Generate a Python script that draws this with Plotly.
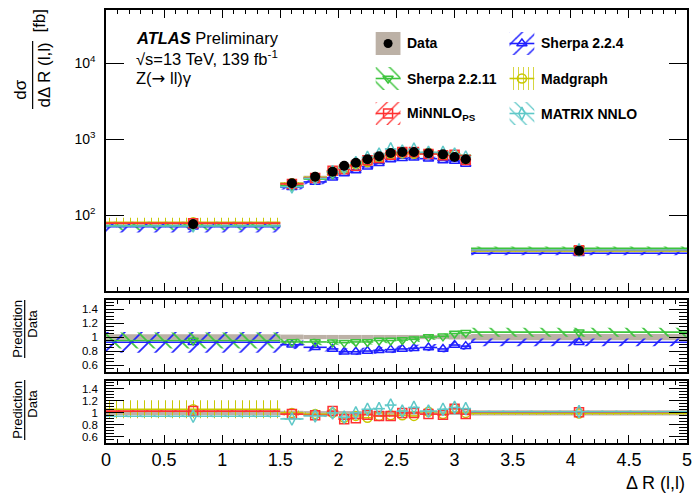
import plotly.graph_objects as go

# ------------------------------------------------------------------ data
bin_edges = [0.0, 1.5, 1.7, 1.9, 2.0, 2.1, 2.2, 2.3, 2.4, 2.5, 2.6, 2.7, 2.85, 2.95, 3.05, 3.14159, 5.0]
data_xsec = [76, 262, 320, 373, 447, 489, 542, 594, 656, 676, 676, 650, 630, 582, 542, 34]
data_rel_unc = [0.04, 0.035, 0.03, 0.03, 0.03, 0.03, 0.03, 0.03, 0.03, 0.03, 0.03, 0.03, 0.03, 0.035, 0.035, 0.045]

ratio_sherpa224 = [0.925, 0.89, 0.853, 0.83, 0.79, 0.79, 0.80, 0.81, 0.82, 0.83, 0.84, 0.85, 0.83, 0.886, 0.87, 0.925]
unc_sherpa224 = [0.16, 0.07, 0.07, 0.06, 0.06, 0.06, 0.06, 0.06, 0.06, 0.06, 0.06, 0.06, 0.06, 0.06, 0.06, 0.06]
ratio_sherpa2211 = [0.95, 0.93, 0.93, 0.925, 0.92, 0.93, 0.93, 0.95, 0.95, 0.957, 0.967, 1.0, 1.01, 1.05, 1.06, 1.07]
unc_sherpa2211 = [0.12, 0.05, 0.05, 0.04, 0.04, 0.04, 0.04, 0.04, 0.04, 0.04, 0.04, 0.04, 0.04, 0.04, 0.04, 0.06]
ratio_madgraph = [1.06, 1.0, 0.98, 1.0, 0.92, 0.95, 0.92, 0.95, 0.96, 0.96, 0.95, 1.02, 0.98, 1.07, 1.0, 0.99]
unc_madgraph = [0.14, 0.04, 0.03, 0.03, 0.03, 0.03, 0.03, 0.03, 0.03, 0.03, 0.03, 0.03, 0.03, 0.03, 0.03, 0.02]
ratio_minnlo = [1.03, 0.98, 0.96, 1.03, 0.895, 0.91, 0.97, 0.95, 0.95, 1.0, 1.0, 0.98, 0.97, 1.07, 0.98, 1.01]
unc_minnlo = [0.02, 0.02, 0.02, 0.02, 0.02, 0.02, 0.02, 0.02, 0.02, 0.02, 0.02, 0.02, 0.02, 0.02, 0.02, 0.02]
ratio_matrix = [0.945, 0.9, 0.95, 1.0, 0.93, 1.0, 1.06, 1.07, 1.13, 1.03, 1.09, 1.03, 1.06, 1.09, 1.07, 1.02]
unc_matrix = [0.02, 0.02, 0.02, 0.02, 0.02, 0.02, 0.02, 0.02, 0.02, 0.02, 0.02, 0.02, 0.02, 0.02, 0.02, 0.02]

model_names = ["Sherpa 2.2.4", "Sherpa 2.2.11", "Madgraph", "MiNNLO<sub>PS</sub>", "MATRIX NNLO"]
x_tick_vals = [0, 0.5, 1, 1.5, 2, 2.5, 3, 3.5, 4, 4.5, 5]
x_tick_text = ["0", "0.5", "1", "1.5", "2", "2.5", "3", "3.5", "4", "4.5", "5"]
main_label_vals = [100, 1000, 10000]
main_label_text = ["10<sup>2</sup>", "10<sup>3</sup>", "10<sup>4</sup>"]
ratio_tick_vals = [0.6, 0.8, 1.0, 1.2, 1.4]
ratio_tick_text = ["0.6", "0.8", "1", "1.2", "1.4"]

# ------------------------------------------------------------------ styles
FONT = "Liberation Sans, Arial, Helvetica, sans-serif"
BLUE = "#1f1fff"
GREEN = "#3cc43c"
YELLOW = "#c8c800"
RED = "#ff3030"
CYAN = "#5fc8c8"
TAUPE = "#bcb1a6"

models = [
    dict(name=model_names[0], ratio=ratio_sherpa224, unc=unc_sherpa224, color=BLUE,
         symbol="triangle-up-open", shape="/", psize=12, panel=2),
    dict(name=model_names[1], ratio=ratio_sherpa2211, unc=unc_sherpa2211, color=GREEN,
         symbol="triangle-down-open", shape="\\", psize=12, panel=2),
    dict(name=model_names[2], ratio=ratio_madgraph, unc=unc_madgraph, color=YELLOW,
         symbol="circle-open", shape="|", psize=7, panel=3),
    dict(name=model_names[3], ratio=ratio_minnlo, unc=unc_minnlo, color=RED,
         symbol="square-open", shape="/", psize=10, panel=3),
    dict(name=model_names[4], ratio=ratio_matrix, unc=unc_matrix, color=CYAN,
         symbol="diamond-tall-open", shape="\\", psize=10, panel=3),
]

# ------------------------------------------------------------------ geometry
W, H = 697, 495
ML, MR, MT, MB = 106, 5, 10, 52
PW = W - ML - MR
PH = H - MT - MB


def pxx(xp):
    return (xp - ML) / PW


def pxy(yp):
    return (H - MB - yp) / PH


MAIN_TOP, MAIN_BOT = 10, 291
R1_TOP, R1_BOT = 300, 372
R2_TOP, R2_BOT = 381, 443

centers = [(a + b) / 2 for a, b in zip(bin_edges[:-1], bin_edges[1:])]
widths = [b - a for a, b in zip(bin_edges[:-1], bin_edges[1:])]


def step_xy(vals):
    xs, ys = [], []
    for a, b, v in zip(bin_edges[:-1], bin_edges[1:], vals):
        xs += [a, b, None]
        ys += [v, v, None]
    return xs, ys


fig = go.Figure()


def add_band(vals, rel, color, shape, psize, xa, ya, solid=False):
    lo = [v * (1 - u) for v, u in zip(vals, rel)]
    hi = [v * (1 + u) for v, u in zip(vals, rel)]
    if solid:
        marker = dict(color=color, line=dict(width=0))
    else:
        marker = dict(color="rgba(0,0,0,0)", line=dict(width=0),
                      pattern=dict(shape=shape, fgcolor=color, bgcolor="rgba(0,0,0,0)",
                                   size=psize, solidity=0.14, fillmode="replace"))
    fig.add_trace(go.Bar(x=centers, y=[h - l for h, l in zip(hi, lo)], base=lo, width=widths,
                         marker=marker, xaxis=xa, yaxis=ya, showlegend=False, hoverinfo="skip"))


def add_line_marker(vals, color, symbol, xa, ya, size=9):
    xs, ys = step_xy(vals)
    fig.add_trace(go.Scatter(x=xs, y=ys, mode="lines", line=dict(color=color, width=1.6),
                             xaxis=xa, yaxis=ya, showlegend=False, hoverinfo="skip"))
    fig.add_trace(go.Scatter(x=centers, y=vals, mode="markers",
                             marker=dict(symbol=symbol, color=color, size=size,
                                         line=dict(color=color, width=1.5)),
                             xaxis=xa, yaxis=ya, showlegend=False, hoverinfo="skip"))


ones = [1.0 for _ in data_xsec]

# ---- main panel
add_band(data_xsec, data_rel_unc, TAUPE, None, None, "x", "y", solid=True)
for m in models:
    pred = [d * r for d, r in zip(data_xsec, m["ratio"])]
    add_band(pred, m["unc"], m["color"], m["shape"], m["psize"], "x", "y")
for m in models:
    pred = [d * r for d, r in zip(data_xsec, m["ratio"])]
    add_line_marker(pred, m["color"], m["symbol"], "x", "y")
fig.add_trace(go.Scatter(x=centers, y=data_xsec, mode="markers",
                         marker=dict(symbol="circle", color="black", size=10),
                         xaxis="x", yaxis="y", showlegend=False, hoverinfo="skip"))

# ---- ratio panels
for panel, (xa, ya) in ((2, ("x2", "y2")), (3, ("x3", "y3"))):
    add_band(ones, data_rel_unc, TAUPE, None, None, xa, ya, solid=True)
    sel = [m for m in models if m["panel"] == panel]
    for m in sel:
        add_band(m["ratio"], m["unc"], m["color"], m["shape"], m["psize"], xa, ya)
    for m in sel:
        add_line_marker(m["ratio"], m["color"], m["symbol"], xa, ya)

# ---- legend (drawn on a hidden unit axis over the main panel)
def lx(xp):
    return (xp - ML) / PW


def ly(yp):
    return (MAIN_BOT - yp) / (MAIN_BOT - MAIN_TOP)


leg_entries = [("Data", None), (models[0]["name"], models[0]),
               (models[1]["name"], models[1]), (models[2]["name"], models[2]),
               (models[3]["name"], models[3]), (models[4]["name"], models[4])]
col_x = [378, 513]
row_y = [43.5, 78.5, 113.5]
annotations = []
for i, (name, m) in enumerate(leg_entries):
    x0 = col_x[i % 2]
    yc = row_y[i // 2]
    x1 = x0 + 25
    y0, y1 = yc - 11.5, yc + 11.5
    bx = [lx(x0), lx(x1), lx(x1), lx(x0), lx(x0)]
    by = [ly(y0), ly(y0), ly(y1), ly(y1), ly(y0)]
    if m is None:
        fig.add_trace(go.Scatter(x=bx, y=by, fill="toself", fillcolor=TAUPE, mode="lines",
                                 line=dict(width=0), xaxis="x4", yaxis="y4",
                                 showlegend=False, hoverinfo="skip"))
        fig.add_trace(go.Scatter(x=[lx(x0 + 12.5)], y=[ly(yc)], mode="markers",
                                 marker=dict(color="black", size=9), xaxis="x4", yaxis="y4",
                                 showlegend=False, hoverinfo="skip"))
    else:
        fig.add_trace(go.Scatter(x=bx, y=by, fill="toself", mode="lines", line=dict(width=0),
                                 fillcolor="rgba(0,0,0,0)",
                                 fillpattern=dict(shape=m["shape"], fgcolor=m["color"],
                                                  bgcolor="rgba(0,0,0,0)", size=m["psize"] - 2,
                                                  solidity=0.15, fillmode="replace"),
                                 xaxis="x4", yaxis="y4", showlegend=False, hoverinfo="skip"))
        fig.add_trace(go.Scatter(x=[lx(x0), lx(x1)], y=[ly(yc), ly(yc)], mode="lines",
                                 line=dict(color=m["color"], width=1.6), xaxis="x4", yaxis="y4",
                                 showlegend=False, hoverinfo="skip"))
        fig.add_trace(go.Scatter(x=[lx(x0 + 12.5)], y=[ly(yc)], mode="markers",
                                 marker=dict(symbol=m["symbol"], color=m["color"], size=9,
                                             line=dict(color=m["color"], width=1.5)),
                                 xaxis="x4", yaxis="y4", showlegend=False, hoverinfo="skip"))
    annotations.append(dict(x=pxx(x1 + 5), y=pxy(yc), xref="paper", yref="paper",
                            text="<b>%s</b>" % name, showarrow=False, xanchor="left",
                            yanchor="middle", font=dict(family=FONT, size=14, color="black")))

# ---- texts
annotations += [
    dict(x=pxx(134), y=pxy(38), text="<b><i>ATLAS</i></b> Preliminary"),
    dict(x=pxx(134), y=pxy(58), text="√s=13 TeV, 139 fb<sup>-1</sup>"),
    dict(x=pxx(134), y=pxy(79),
         text="Z(<span style='font-family:DejaVu Sans'>→</span> ll)γ"),
]
for a in annotations[-3:]:
    a.update(xref="paper", yref="paper", showarrow=False, xanchor="left", yanchor="middle",
             font=dict(family=FONT, size=16.5, color="black"))

annotations += [
    dict(x=pxx(20), y=pxy(90), text="dσ", textangle=-90),
    dict(x=pxx(43), y=pxy(75), text="dΔ R (l,l)", textangle=-90),
    dict(x=pxx(39), y=pxy(21), text="[fb]", textangle=-90),
]
for a in annotations[-3:]:
    a.update(xref="paper", yref="paper", showarrow=False, xanchor="center", yanchor="middle",
             font=dict(family=FONT, size=17, color="black"))

for yc_pred, yc_data in ((329, 324), (410, 404)):
    annotations.append(dict(x=pxx(16), y=pxy(yc_pred), text="Prediction", textangle=-90))
    annotations.append(dict(x=pxx(31), y=pxy(yc_data), text="Data", textangle=-90))
for a in annotations[-4:]:
    a.update(xref="paper", yref="paper", showarrow=False, xanchor="center", yanchor="middle",
             font=dict(family=FONT, size=13, color="black"))

annotations.append(dict(x=pxx(692), y=pxy(483), xref="paper", yref="paper", text="Δ R (l,l)",
                        showarrow=False, xanchor="right", yanchor="middle",
                        font=dict(family=FONT, size=18, color="black")))

shapes = [
    dict(type="line", xref="paper", yref="paper", x0=pxx(32), x1=pxx(32), y0=pxy(41), y1=pxy(109),
         line=dict(color="black", width=1.2)),
    dict(type="line", xref="paper", yref="paper", x0=pxx(24), x1=pxx(24), y0=pxy(300), y1=pxy(358),
         line=dict(color="black", width=1.2)),
    dict(type="line", xref="paper", yref="paper", x0=pxx(24), x1=pxx(24), y0=pxy(380), y1=pxy(440),
         line=dict(color="black", width=1.2)),
]

# ---- axes
xcommon = dict(range=[0, 5], tickmode="array", tickvals=x_tick_vals, ticktext=x_tick_text,
               ticks="inside", ticklen=8, tickwidth=1, tickcolor="black",
               minor=dict(ticks="inside", dtick=0.1, tick0=0, ticklen=4, tickcolor="black"),
               showline=True, linecolor="black", linewidth=1.5, mirror="ticks",
               showgrid=False, zeroline=False, fixedrange=True)
ratio_common = dict(range=[0.5, 1.53], tickmode="array", tickvals=ratio_tick_vals,
                    ticktext=ratio_tick_text, ticks="inside", ticklen=18, tickcolor="black",
                    minor=dict(ticks="inside", dtick=0.05, tick0=0, ticklen=8, tickcolor="black"),
                    showline=True, linecolor="black", linewidth=1.5, mirror="ticks",
                    showgrid=False, zeroline=False, ticklabelstandoff=4,
                    tickfont=dict(family=FONT, size=11.5, color="black"))

# log axis: long labelled ticks at decades, short ticks at 2..9 x 10^k on an overlay axis
log_minor_vals = [m * 10 ** k for k in (1, 2, 3, 4) for m in range(2, 10) if m * 10 ** k <= 50000]
MAIN_DOM = [pxy(MAIN_BOT), pxy(MAIN_TOP)]

fig.update_layout(
    width=W, height=H, margin=dict(l=ML, r=MR, t=MT, b=MB),
    paper_bgcolor="white", plot_bgcolor="rgba(0,0,0,0)",
    barmode="overlay", showlegend=False,
    font=dict(family=FONT, color="black"),
    xaxis=dict(**xcommon, anchor="y", showticklabels=False),
    xaxis2=dict(**xcommon, anchor="y2", showticklabels=False),
    xaxis3=dict(**xcommon, anchor="y3", showticklabels=True,
                tickfont=dict(family=FONT, size=18, color="black")),
    xaxis4=dict(domain=[0, 1], range=[0, 1], anchor="y4", visible=False, fixedrange=True),
    yaxis=dict(type="log", range=[1, 4.7], domain=MAIN_DOM, anchor="x",
               tickmode="array", tickvals=main_label_vals, ticktext=main_label_text,
               ticks="inside", ticklen=18, tickcolor="black",
               showline=True, linecolor="black", linewidth=1.5, mirror="ticks",
               showgrid=False, zeroline=False, ticklabelstandoff=6,
               tickfont=dict(family=FONT, size=14, color="black")),
    yaxis5=dict(type="log", range=[1, 4.7], overlaying="y", anchor="x",
                tickmode="array", tickvals=log_minor_vals,
                ticks="inside", ticklen=8, tickcolor="black", showticklabels=False,
                showline=False, mirror="ticks", showgrid=False, zeroline=False),
    yaxis2=dict(**ratio_common, domain=[pxy(R1_BOT), pxy(R1_TOP)], anchor="x2"),
    yaxis3=dict(**ratio_common, domain=[pxy(R2_BOT), pxy(R2_TOP)], anchor="x3"),
    yaxis4=dict(domain=MAIN_DOM, range=[0, 1], anchor="x4",
                visible=False, fixedrange=True),
    annotations=annotations,
    shapes=shapes,
)

fig.write_html("out.html")
